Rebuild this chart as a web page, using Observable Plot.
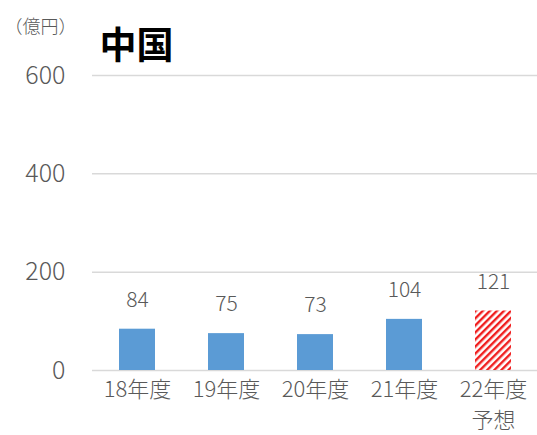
<!DOCTYPE html>
<html><head><meta charset="utf-8">
<script src="https://cdn.jsdelivr.net/npm/d3@7"></script>
<script src="https://cdn.jsdelivr.net/npm/@observablehq/plot@0.6"></script>
<style>
body{margin:0;background:#fff;}
#c{position:relative;width:537px;height:435px;}
</style>
</head><body><div id="c"></div>
<script>
const years = ["18年度","19年度","20年度","21年度","22年度"];
const subLabels = ["", "", "", "", "予想"];
const values = [84, 75, 73, 104, 121];
const forecast = [false, false, false, false, true];
const yTicks = [0, 200, 400, 600];
const unitLabel = "（億円）";
const title = "中国";

const data = years.map((y, i) => ({year: y, sub: subLabels[i], value: values[i], forecast: forecast[i]}));

const font = "'Noto Sans CJK JP', 'Noto Sans', sans-serif";

const chart = Plot.plot({
  width: 537, height: 435,
  marginTop: 75, marginBottom: 65, marginLeft: 92, marginRight: 0,
  style: {fontFamily: font, background: "#fff", overflow: "visible"},
  x: {domain: years, paddingInner: 0.6, paddingOuter: 0.28, label: null},
  y: {domain: [0, 600], label: null},
  marks: [
    Plot.gridY(yTicks, {stroke: "#d9d9d9", strokeOpacity: 1, strokeWidth: 1.5}),
    Plot.axisY({ticks: yTicks, tickSize: 0, tickPadding: 27, fontSize: 25, fontWeight: 300, fill: "#595959", label: null, tickFormat: d => d, style: {letterSpacing: "3px"}}),
    Plot.axisX({tickSize: 0, tickPadding: 11, fontSize: 22, fontWeight: 300, fill: "#595959", label: null, style: {letterSpacing: "0.5px"}}),
    Plot.text(data.filter(d => d.sub), {x: "year", text: "sub", frameAnchor: "bottom", lineAnchor: "top", dy: 42, fontSize: 22, fontWeight: 300, fill: "#595959"}),
    Plot.barY(data, {x: "year", y: "value", fill: d => d.forecast ? "url(#hatch)" : "#5b9bd5"}),
    Plot.text(data, {x: "year", y: "value", text: d => String(d.value), dy: -29, fontSize: 21, fontWeight: 300, fill: "#595959", style: {letterSpacing: "1.5px"}}),
    Plot.text([unitLabel], {frameAnchor: "top-left", text: d => d, dx: -88, dy: -55, fontSize: 18, fontWeight: 300, fill: "#595959", textAnchor: "start"}),
    Plot.text([title], {frameAnchor: "top-left", text: d => d, dx: 7, dy: -17, fontSize: 37, fontWeight: "bold", fill: "#000", textAnchor: "start", lineAnchor: "bottom"})
  ]
});

const defs = document.createElementNS("http://www.w3.org/2000/svg", "defs");
defs.innerHTML = '<pattern id="hatch" width="5" height="5" patternUnits="userSpaceOnUse" patternTransform="rotate(45)"><rect width="5" height="5" fill="#fff"/><rect width="2.4" height="5" fill="#f01e1e"/></pattern>';
chart.insertBefore(defs, chart.firstChild);
document.getElementById("c").appendChild(chart);
</script>
</body></html>
